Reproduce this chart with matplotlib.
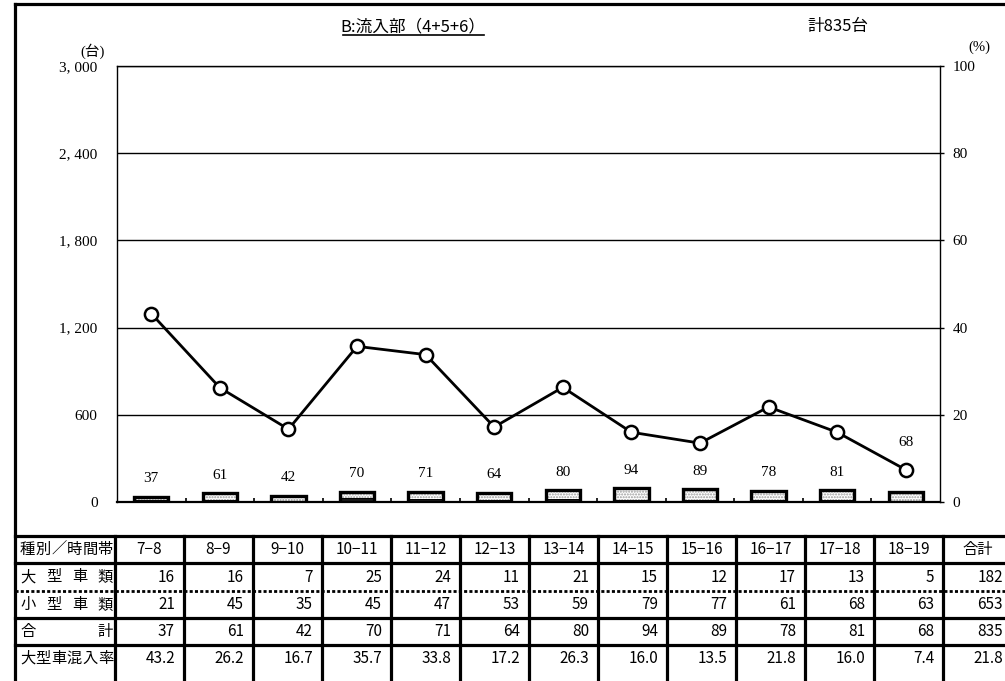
import matplotlib
matplotlib.use('Agg')
import matplotlib.pyplot as plt
import numpy as np
from matplotlib.lines import Line2D

# ---------------- data ----------------
categories = ['7−8', '8−9', '9−10', '10−11', '11−12', '12−13',
              '13−14', '14−15', '15−16', '16−17', '17−18', '18−19']
large = [16, 16, 7, 25, 24, 11, 21, 15, 12, 17, 13, 5]
small = [21, 45, 35, 45, 47, 53, 59, 79, 77, 61, 68, 63]
total = [37, 61, 42, 70, 71, 64, 80, 94, 89, 78, 81, 68]
rate = [43.2, 26.2, 16.7, 35.7, 33.8, 17.2, 26.3, 16.0, 13.5, 21.8, 16.0, 7.4]
sum_large, sum_small, sum_total, sum_rate = 182, 653, 835, 21.8

row_labels = ['種別／時間帯', '大型車類', '小型車類', '合計', '大型車混入率']
total_header = '合計'
title = 'B:流入部（4+5+6）'
subtitle = '計835台'
left_ticks = [0, 600, 1200, 1800, 2400, 3000]
right_ticks = [0, 20, 40, 60, 80, 100]
left_unit = '(台)'
right_unit = '(%)'

# ---------------- figure ----------------
W, H = 1005, 681
fig = plt.figure(figsize=(W / 100, H / 100), dpi=100)
fig.patch.set_facecolor('white')

SERIF = ['Liberation Serif', 'Noto Sans CJK JP']
GOTH = ['Noto Sans CJK JP', 'DejaVu Sans']
SFS = 11

ax_l, ax_r, ax_t, ax_b = 117, 940, 66, 502
ax = fig.add_axes([ax_l / W, 1 - ax_b / H, (ax_r - ax_l) / W, (ax_b - ax_t) / H])
ax.set_xlim(-0.5, len(categories) - 0.5)
ax.set_ylim(left_ticks[0], left_ticks[-1])
x = np.arange(len(categories))

# bars: large (bottom, dark) + small (top, dotted)
bw = 0.5
ax.bar(x, large, width=bw, color='#1a1a1a', edgecolor='black', lw=1.2, zorder=3)
ax.bar(x, small, bottom=large, width=bw, facecolor='white', hatch='......',
       edgecolor='#9a9a9a', lw=0, zorder=3)
ax.bar(x, total, width=bw, facecolor='none', edgecolor='black', lw=2.4, zorder=4)

# grid & spines
ax.set_yticks(left_ticks)
ax.set_yticklabels([f"{v:,}".replace(',', ', ') for v in left_ticks],
                   fontfamily=SERIF, fontsize=SFS)
ax.tick_params(axis='y', length=0, pad=14)
ax.yaxis.grid(True, color='black', lw=1.0)
ax.set_axisbelow(True)
ax.set_xticks([])
ax.set_xticks(np.arange(0.5, len(categories) - 0.5, 1), minor=True)
ax.tick_params(axis='x', which='minor', direction='in', length=3, width=1.2, color='black')
for s in ['top', 'left', 'right']:
    ax.spines[s].set_linewidth(1.0)
ax.spines['bottom'].set_linewidth(1.6)

ax2 = ax.twinx()
ax2.set_ylim(right_ticks[0], right_ticks[-1])
ax2.set_yticks(right_ticks)
ax2.set_yticklabels([str(v) for v in right_ticks], fontfamily=SERIF, fontsize=SFS)
ax2.tick_params(axis='y', direction='out', length=3, width=1, pad=6)
for s in ax2.spines.values():
    s.set_visible(False)
ax2.plot(x, rate, '-o', color='black', lw=2.0, ms=9.5, mfc='white',
         mec='black', mew=1.8, zorder=5, clip_on=False)

# total labels above bars
fig.canvas.draw()
for xi, t, r in zip(x, total, rate):
    by = ax.transData.transform((xi, t))[1]
    my = ax2.transData.transform((xi, r))[1]
    ly = by + 18
    if abs(ly - my) < 14:
        ax2.annotate(str(t), xy=(xi, r), xytext=(0, 19.5), textcoords='offset points',
                     ha='center', va='center', fontfamily=SERIF, fontsize=SFS, zorder=6)
    else:
        ax.annotate(str(t), xy=(xi, t), xytext=(0, 13), textcoords='offset points',
                    ha='center', va='center', fontfamily=SERIF, fontsize=SFS, zorder=6)

# units
fig.text(93 / W, 1 - 51 / H, left_unit, fontfamily=SERIF, fontsize=10.5, ha='center', va='center')
fig.text(979 / W, 1 - 47 / H, right_unit, fontfamily=SERIF, fontsize=10.5, ha='center', va='center')

# ---------------- overlay (frame, titles, table) ----------------
ov = fig.add_axes([0, 0, 1, 1])
ov.set_xlim(0, W)
ov.set_ylim(H, 0)
ov.axis('off')

LW = 2.3
ov.add_line(Line2D([15, 15], [4, H], color='black', lw=LW, solid_capstyle='projecting'))
ov.add_line(Line2D([15, W], [4, 4], color='black', lw=LW, solid_capstyle='projecting'))

t1 = ov.text(413, 27, title, fontfamily=GOTH, fontsize=12, ha='center', va='center')
ov.text(838, 27, subtitle, fontfamily=GOTH, fontsize=12, ha='center', va='center')
fig.canvas.draw()
bb = t1.get_window_extent()
inv = ov.transData.inverted()
(x0, y0), (x1, _) = inv.transform([(bb.x0, bb.y0), (bb.x1, bb.y0)])
ov.add_line(Line2D([x0 + 2, x1 - 2], [y0 - 1, y0 - 1], color='black', lw=1.2))

# table
row_lines = [536, 563, 591, 618, 645, 672]
col0_left = 15
col_first = 115
col_w = 69
ncols = len(categories) + 1
col_edges = [col_first + col_w * k for k in range(ncols + 1)]

for i, yl in enumerate(row_lines[:-1]):
    if i == 2:
        ov.add_line(Line2D([col0_left, W], [yl, yl], color='black', lw=2.0,
                           linestyle=(0, (1.1, 0.8))))
    else:
        ov.add_line(Line2D([col0_left, W], [yl, yl], color='black', lw=LW))
for xe in col_edges:
    ov.add_line(Line2D([xe, xe], [row_lines[0], H], color='black', lw=LW))

FS = 11
char_px = FS * 100 / 72
def distribute(label, yc):
    xa, xb = 20, col_first - 2
    n = len(label)
    for i, ch in enumerate(label):
        if n == 1:
            cx = xa + char_px / 2
        else:
            cx = xa + char_px / 2 + i * (xb - xa - char_px) / (n - 1)
        ov.text(cx, yc, ch, fontfamily=GOTH, fontsize=FS, ha='center', va='center')

row_centers = [(row_lines[i] + row_lines[i + 1]) / 2 for i in range(len(row_lines) - 1)]
for lab, yc in zip(row_labels, row_centers):
    distribute(lab, yc)

headers = categories + [total_header]
rows = [
    [str(v) for v in large] + [str(sum_large)],
    [str(v) for v in small] + [str(sum_small)],
    [str(v) for v in total] + [str(sum_total)],
    [f"{v:.1f}" for v in rate] + [f"{sum_rate:.1f}"],
]
for k, h in enumerate(headers):
    cx = (col_edges[k] + col_edges[k + 1]) / 2
    ov.text(cx, row_centers[0], h, fontfamily=GOTH, fontsize=FS, ha='center', va='center')
    for r, vals in enumerate(rows):
        ov.text(col_edges[k + 1] - 9, row_centers[r + 1], vals[k], fontfamily=GOTH,
                fontsize=FS, ha='right', va='center')

fig.savefig('out.png', dpi=100, facecolor='white')
